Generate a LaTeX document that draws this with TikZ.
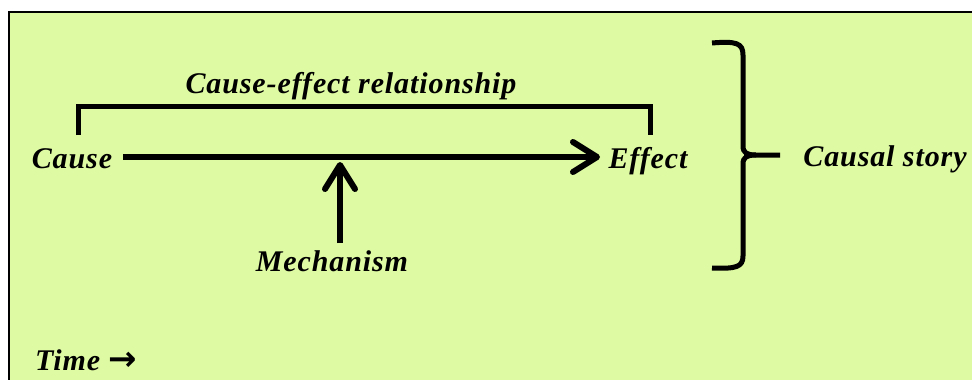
\documentclass[tikz,border=0pt]{standalone}
\usepackage{fontspec}
\setmainfont{Liberation Serif}
\newfontfamily\arrowfont{DejaVu Sans}
\usetikzlibrary{arrows.meta}
\definecolor{bggreen}{HTML}{DEFAA2}
\tikzset{
  lbl/.style={inner sep=0pt, anchor=base, font=\fontsize{30}{34}\selectfont\bfseries\itshape\addfontfeatures{LetterSpace=3}},
  thick line/.style={line width=5pt, line cap=butt},
  arrowline/.style={line width=6pt, -{Straight Barb[length=24pt, width=30pt, line width=6pt, round]}},
}
\begin{document}
\begin{tikzpicture}[x=1pt,y=-1pt]
\useasboundingbox (0,0) rectangle (972,380);
\fill[white] (0,0) rectangle (972,380);
\fill[bggreen] (9,12) rectangle (972,380);
\draw[line width=2.5pt] (9,380) |- (972,12);
% labels
\node[lbl] (rel) at (351,93) {Cause-effect relationship};
\node[lbl] (cause) at (72,168) {Cause};
\node[lbl] (effect) at (648,168) {Effect};
\node[lbl] (mech) at (332,271) {Mechanism};
\node[lbl] (story) at (885,166) {Causal story};
\node[lbl, anchor=base west] (time) at (35,370) {Time {\arrowfont\bfseries\upshape\fontsize{34}{36}\selectfont\char"2192}};
% bracket
\coordinate (bl) at (78,135);
\coordinate (br) at (650,135);
\draw[thick line, line join=miter] (bl) -- ++(0,-29) -| (br);
% main arrow
\coordinate (ms) at (123,157);
\coordinate (me) at (600,157);
\draw[arrowline] (ms) -- (me);
% mechanism arrow
\coordinate (mb) at (340,243);
\coordinate (mt) at (340,162);
\draw[arrowline] (mb) -- (mt);
% brace
\coordinate (btop) at (712,43);
\coordinate (bbot) at (712,268);
\coordinate (bmid) at (780,155);
\draw[line width=5pt, line cap=butt]
  (btop) .. controls (736,41) and (743,43) .. (743,55) -- (743,146)
  .. controls (743,153) and (747,155) .. (756,155) -- (bmid);
\draw[line width=5pt, line cap=butt]
  (bbot) .. controls (736,269) and (743,267) .. (743,256) -- (743,164)
  .. controls (743,157) and (747,155) .. (756,155);
\end{tikzpicture}
\end{document}
